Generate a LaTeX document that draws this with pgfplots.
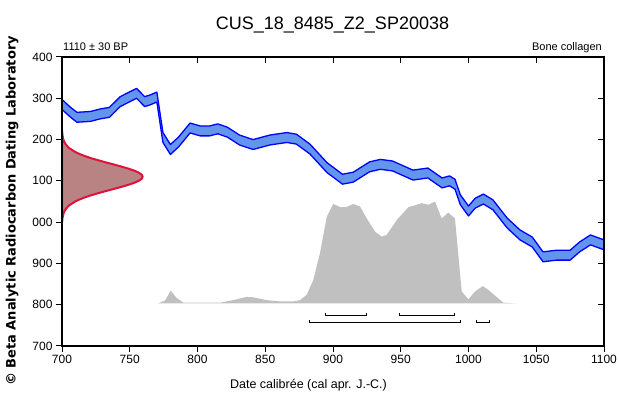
\documentclass[border=0pt]{standalone}
\usepackage{pgfplots}
\pgfplotsset{compat=1.18}
\usepackage{pgfplotstable}
\usepgfplotslibrary{fillbetween}
\usepackage{fontspec}
\setmainfont{Liberation Sans}
\newfontfamily\dejavu{DejaVu Sans}
\definecolor{cornflower}{RGB}{100,149,237}
\definecolor{bandedge}{RGB}{0,0,255}
\definecolor{navyedge}{RGB}{0,0,140}
\definecolor{rosy}{RGB}{186,131,131}
\definecolor{crimsonline}{RGB}{220,20,60}
\definecolor{probgray}{RGB}{192,192,192}

\pgfplotstableread{
x lo hi
700 1273 1297
706 1255 1279
711 1242 1266
721 1244 1268
728 1250 1274
735 1254 1278
743 1280 1304
755 1300 1324
761 1280 1304
765 1284 1308
770 1291 1315
774.5 1193 1217
780 1164 1188
786 1182 1206
794.5 1216 1240
802 1209 1233
809 1209 1233
815 1214 1238
822 1206 1230
831 1187 1211
841 1176 1200
853.5 1187 1211
866 1193 1217
873 1189 1213
883 1165 1189
895.6 1120 1144
907 1092 1116
915 1097 1121
927 1122 1146
935 1128 1152
944 1124 1148
959 1102 1126
970 1107 1131
980.5 1083 1107
986 1088 1112
990 1080 1104
994 1042 1066
1000 1015 1039
1005 1034 1058
1011 1044 1068
1018 1030 1054
1028.5 986 1010
1038 957 981
1047 940 964
1055 904 928
1065 908 932
1075 908 932
1082 928 952
1090 945 969
1100 933 957
}\curvetable

\begin{document}
\begin{tikzpicture}
\begin{axis}[
  at={(62pt,64pt)}, anchor=south west,
  scale only axis, width=542pt, height=289pt,
  xmin=700, xmax=1100, ymin=700, ymax=1400,
  axis on top,
  axis line style={line width=1.2pt},
  xtick={700,750,800,850,900,950,1000,1050,1100},
  xticklabels={700,750,800,850,900,950,1000,1050,1100},
  ytick={700,800,900,1000,1100,1200,1300,1400},
  yticklabels={700,800,900,000,100,200,300,400},
  xtick pos=left, ytick pos=left,
  tick align=outside,
  major tick length=6pt,
  tick style={line width=1pt, black},
  tick label style={font=\fontsize{12}{14}\selectfont},
  /pgf/number format/assume math mode=true,
]
% probability distribution
\addplot[fill=probgray, draw=none] coordinates {
(770.8,803)(776,810)(780.2,834)(784.7,816)(789.5,805)(816.6,805)(826.2,811)(836.3,819)(841,818)(851.1,811)(860.9,808)(870.7,808)(875.6,811)(880.6,824)(885.5,860)(890.4,925)(895.4,1013)(900.2,1044)(905.7,1036)(910.1,1037)(915,1044)(919.9,1038)(924.9,1009)(931,977)(935.9,965)(939.6,969)(947,1005)(955.6,1036)(965.5,1046)(970.3,1042)(975.3,1050)(980.2,1009)(985.1,1023)(990,1009)(995,832)(999.9,813)(1004.8,832)(1010.5,845)(1014.6,836)(1025.7,805)(1035.6,803)
} -- cycle;
% calibration curve band
\addplot[draw=none, name path=U] table[x=x,y=hi]{\curvetable};
\addplot[draw=none, name path=L] table[x=x,y=lo]{\curvetable};
\addplot[fill=cornflower, draw=none] fill between[of=U and L];
\addplot[bandedge, line width=1.3pt, line join=round] table[x=x,y=hi]{\curvetable};
\addplot[bandedge, line width=1.3pt, line join=round] table[x=x,y=lo]{\curvetable};
% radiocarbon age distribution
\addplot[fill=rosy, draw=crimsonline, line width=2pt] coordinates {
(700,1000)(700.1,1000)(700.4,1010)(701.0,1020)(702.4,1030)(705.0,1040)(709.7,1050)(713.0,1055)(716.9,1060)(721.4,1065)(726.6,1070)(732.1,1075)(737.8,1080)(743.4,1085)(748.6,1090)(753.1,1095)(756.6,1100)(758.8,1105)(759.5,1110)(758.8,1115)(756.6,1120)(753.1,1125)(748.6,1130)(743.4,1135)(737.8,1140)(732.1,1145)(726.6,1150)(721.4,1155)(716.9,1160)(713.0,1165)(709.7,1170)(705.0,1180)(702.4,1190)(701.0,1200)(700.4,1210)(700.1,1220)(700,1220)
} -- cycle;
% calibrated ranges
\addplot[black, line width=1pt] coordinates {(894.1,780)(894.1,774)(924.4,774)(924.4,780)};
\addplot[black, line width=1pt] coordinates {(949.4,780)(949.4,774)(989.5,774)(989.5,780)};
\addplot[black, line width=1pt] coordinates {(882.3,764)(882.3,758)(994.2,758)(994.2,764)};
\addplot[black, line width=1pt] coordinates {(1006,764)(1006,758)(1015.4,758)(1015.4,764)};
\end{axis}
\begin{axis}[
  at={(62pt,64pt)}, anchor=south west,
  scale only axis, width=542pt, height=289pt,
  xmin=700, xmax=1100, ymin=700, ymax=1400,
  axis line style={line width=1.2pt},
  xtick={700,750,800,850,900,950,1000,1050,1100},
  ytick={700,800,900,1000,1100,1200,1300,1400},
  xticklabels={}, yticklabels={},
  xtick pos=right, ytick pos=right,
  tick align=inside,
  major tick length=6pt,
  tick style={line width=1pt, black},
]
\addplot[draw=none] coordinates {(700,700)(1100,1400)};
\end{axis}
\begin{axis}[
  at={(62pt,64pt)}, anchor=south west,
  scale only axis, width=542pt, height=289pt,
  xmin=700, xmax=1100, ymin=700, ymax=1400,
  hide axis, clip=false,
]
\addplot[navyedge, line width=1.5pt] coordinates {(700,1297)(700,1400)};
\addplot[bandedge, line width=1.5pt] coordinates {(1100,700)(1100,974)};
\end{axis}
\node[anchor=base, inner sep=0, font=\fontsize{18}{20}\selectfont] at (332.5pt,380pt) {CUS\_18\_8485\_Z2\_SP20038};
\node[anchor=base west, inner sep=0, font=\fontsize{11}{13}\selectfont] at (63pt,359pt) {1110 ± 30 BP};
\node[anchor=base east, inner sep=0, font=\fontsize{11}{13}\selectfont] at (602pt,359pt) {Bone collagen};
\node[anchor=base, inner sep=0, font=\fontsize{12.5}{14}\selectfont] at (308.5pt,21pt) {Date calibrée (cal apr. J.-C.)};
\node[rotate=90, inner sep=0, font=\dejavu\bfseries\fontsize{13}{15}\selectfont] at (12pt,199pt) {© Beta Analytic Radiocarbon Dating Laboratory};
\pgfresetboundingbox
\useasboundingbox (0pt,0pt) rectangle (619pt,410pt);
\end{tikzpicture}
\end{document}
